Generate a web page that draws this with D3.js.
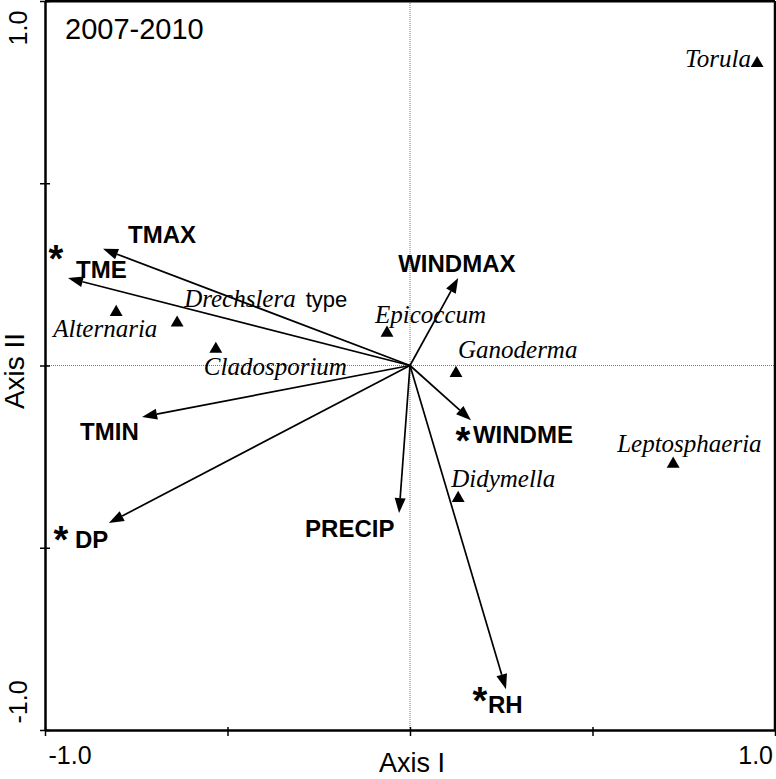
<!DOCTYPE html>
<html><head><meta charset="utf-8">
<script src="https://cdn.jsdelivr.net/npm/d3@7"></script>
<style>body{margin:0;background:#fff}svg{display:block}</style>
</head><body>
<svg id="c" width="776" height="779"></svg>
<script>
// ---- data ----
const title = "2007-2010";
const xTickValues = [-1, -0.5, 0, 0.5, 1];
const yTickValues = [-1, -0.5, 0, 0.5, 1];
const tickLabelValues = [-1, 1];
const envVars = ["TMAX", "TME", "TMIN", "DP", "PRECIP", "WINDMAX", "WINDME", "RH"];
const envAxis1 = [-0.841, -0.937, -0.734, -0.825, -0.030, 0.132, 0.167, 0.263];
const envAxis2 = [0.320, 0.240, -0.141, -0.432, -0.405, 0.240, -0.150, -0.888];
const envSignificant = [false, true, false, true, false, false, true, true];
const species = ["Alternaria", "Drechslera", "Cladosporium", "Epicoccum", "Ganoderma", "Leptosphaeria", "Didymella", "Torula"];
const spAxis1 = [-0.805, -0.638, -0.532, -0.063, 0.126, 0.721, 0.132, 0.951];
const spAxis2 = [0.146, 0.117, 0.045, 0.089, -0.021, -0.270, -0.364, 0.829];
const spSuffix = ["", "type", "", "", "", "", "", ""];

// ---- layout (pixel offsets for labels) ----
const envLabelOff = [[25,-6],[8,0],[-62,23],[-34,25],[-94,24],[-60,-6],[2,23],[-18,24]];
const envStarOff = [null,[-12,-28],null,[-48,8],null,null,[-8,12],[-26,3]];
const spLabelOff = [[-63,25],[7,-16],[-12,26],[-12,-10],[2,-15],[-56,-12],[-7,-11],[-72,4]];

const svg = d3.select("#c");
const x = d3.scaleLinear().domain([-1, 1]).range([45, 775]);
const y = d3.scaleLinear().domain([-1, 1]).range([730, 1]);
const SANS = "Liberation Sans, Arial, sans-serif";
const SERIF = "Liberation Serif, Times New Roman, serif";

// dotted zero lines
svg.append("line").attr("x1", x(0)).attr("x2", x(0)).attr("y1", y(1)).attr("y2", y(-1))
  .attr("stroke", "#777").attr("stroke-width", 1).attr("stroke-dasharray", "1,1");
svg.append("line").attr("x1", x(-1)).attr("x2", x(1)).attr("y1", y(0)).attr("y2", y(0))
  .attr("stroke", "#777").attr("stroke-width", 1).attr("stroke-dasharray", "1,1");

// frame: top & right
svg.append("line").attr("x1", x(-1)).attr("x2", x(1)).attr("y1", y(1)).attr("y2", y(1))
  .attr("stroke", "#000").attr("stroke-width", 3);
svg.append("line").attr("x1", x(1)).attr("x2", x(1)).attr("y1", y(1)).attr("y2", y(-1))
  .attr("stroke", "#000").attr("stroke-width", 2.5);

// axes
const gx = svg.append("g").attr("transform", `translate(0,${y(-1)})`)
  .call(d3.axisBottom(x).tickValues(xTickValues).tickFormat("").tickSizeOuter(0));
gx.select(".domain").attr("stroke-width", 2.5);
gx.selectAll(".tick line").attr("y1", -3).attr("y2", 6).attr("stroke-width", 1.5);
const gy = svg.append("g").attr("transform", `translate(${x(-1)},0)`)
  .call(d3.axisLeft(y).tickValues(yTickValues).tickFormat("").tickSizeOuter(0));
gy.select(".domain").attr("stroke-width", 2.5);
gy.selectAll(".tick line").attr("x1", -5).attr("x2", 5).attr("stroke-width", 1.5);

// tick labels (plain hyphen as in the original)
const fmt = v => d3.format(".1f")(v).replace("\u2212", "-");
tickLabelValues.forEach(v => {
  svg.append("text").attr("x", v < 0 ? x(v) + 25 : x(v) - 2).attr("y", 764)
    .attr("text-anchor", v < 0 ? "middle" : "end")
    .attr("font-family", SANS).attr("font-size", 25).text(fmt(v));
  svg.append("text").attr("transform", `translate(27,${v > 0 ? y(v) + 27 : y(v) - 28}) rotate(-90)`)
    .attr("text-anchor", "middle")
    .attr("font-family", SANS).attr("font-size", 25).text(fmt(v));
});
svg.append("text").attr("x", 412).attr("y", 772).attr("text-anchor", "middle")
  .attr("font-family", SANS).attr("font-size", 27).text("Axis I");
svg.append("text").attr("transform", "translate(24,371) rotate(-90)").attr("text-anchor", "middle")
  .attr("font-family", SANS).attr("font-size", 28).text("Axis II");
svg.append("text").attr("x", 65).attr("y", 39).attr("font-family", SANS).attr("font-size", 29).text(title);

// arrows
const ox = x(0), oy = y(0);
envVars.forEach((name, i) => {
  const tx = x(envAxis1[i]), ty = y(envAxis2[i]);
  const ang = Math.atan2(ty - oy, tx - ox);
  const L = 15, W = 5.5;
  const bx = tx - L * Math.cos(ang), by = ty - L * Math.sin(ang);
  svg.append("line").attr("x1", ox).attr("y1", oy).attr("x2", bx).attr("y2", by)
    .attr("stroke", "#000").attr("stroke-width", 1.7);
  const px = -Math.sin(ang), py = Math.cos(ang);
  svg.append("path").attr("d", `M${tx},${ty}L${bx + W * px},${by + W * py}L${bx - W * px},${by - W * py}Z`)
    .attr("fill", "#000");
  const [dx, dy] = envLabelOff[i];
  svg.append("text").attr("x", tx + dx).attr("y", ty + dy)
    .attr("font-family", SANS).attr("font-weight", "bold").attr("font-size", 24).text(name);
  if (envSignificant[i]) {
    const [sx, sy] = envStarOff[i];
    svg.append("text").attr("x", tx + sx).attr("y", ty + sy + 22).attr("text-anchor", "middle")
      .attr("font-family", SANS).attr("font-weight", "bold").attr("font-size", 38).text("*");
  }
});

// species
const tri = d3.symbol().type(d3.symbolTriangle).size(72);
species.forEach((name, i) => {
  const cx = x(spAxis1[i]), cy = y(spAxis2[i]);
  svg.append("path").attr("d", tri()).attr("transform", `translate(${cx},${cy})`).attr("fill", "#000");
  const [dx, dy] = spLabelOff[i];
  const t = svg.append("text").attr("x", cx + dx).attr("y", cy + dy);
  t.append("tspan").attr("font-family", SERIF).attr("font-style", "italic").attr("font-size", 25).text(name);
  if (spSuffix[i]) t.append("tspan").attr("dx", 10).attr("font-family", SANS).attr("font-size", 22).text(spSuffix[i]);
});
</script>
</body></html>
